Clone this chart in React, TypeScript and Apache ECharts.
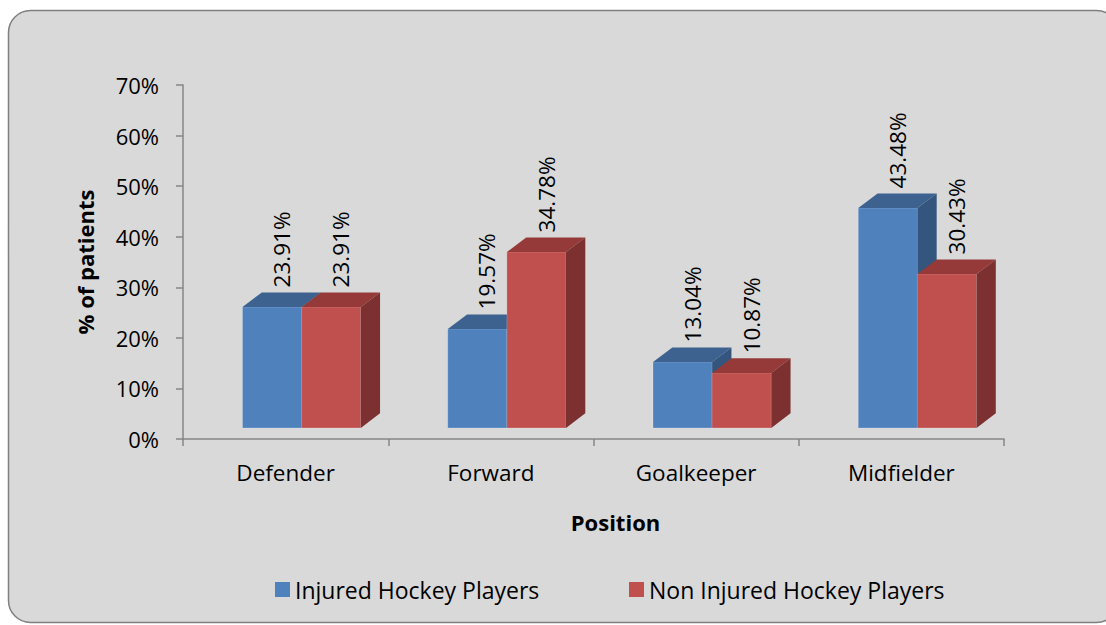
import React, { useEffect, useRef } from "react";
import * as echarts from "echarts";

const categories = ["Defender", "Forward", "Goalkeeper", "Midfielder"];
const injured = [23.91, 19.57, 13.04, 43.48];
const nonInjured = [23.91, 34.78, 10.87, 30.43];
const seriesNames = ["Injured Hockey Players", "Non Injured Hockey Players"];
const yMin = 0;
const yMax = 70;
const yStep = 10;

const FONT = "'Open Sans', 'DejaVu Sans', sans-serif";

const palette = [
  { front: "#4F81BD", top: "#3D6290", side: "#34557E" },
  { front: "#C0504D", top: "#953A39", side: "#7C302F" },
];

function renderBar(params: any, api: any) {
  const si = params.seriesIndex;
  const cat = api.value(0);
  const val = api.value(1);
  const top = api.coord([cat, val]);
  const base = api.coord([cat, 0]);
  const band = api.size([1, 0])[0];
  const barW = band * 0.288;
  const off = band * 0.078;
  const dx = band * 0.094;
  const dy = band * 0.071;
  const shift = band * 0.054;
  const cx = top[0];
  const x0 = si === 0 ? cx + off - barW : cx + off;
  const x1 = x0 + barW;
  const yT = top[1] - shift;
  const yB = base[1] - shift;
  const c = palette[si];
  const text = val.toFixed(2) + "%";
  return {
    type: "group",
    children: [
      {
        type: "rect",
        shape: { x: x0, y: yT, width: barW, height: yB - yT },
        style: { fill: c.front, stroke: "rgba(255,255,255,0.18)", lineWidth: 1 },
      },
      {
        type: "polygon",
        shape: { points: [[x0, yT], [x1, yT], [x1 + dx, yT - dy], [x0 + dx, yT - dy]] },
        style: { fill: c.top },
      },
      {
        type: "polygon",
        shape: { points: [[x1, yT], [x1 + dx, yT - dy], [x1 + dx, yB - dy], [x1, yB]] },
        style: { fill: c.side },
      },
      {
        type: "text",
        x: (x0 + x1) / 2 + dx / 2,
        y: yT - dy - 5,
        rotation: Math.PI / 2,
        style: {
          text,
          fill: "#000",
          font: "22.5px " + FONT,
          align: "left",
          verticalAlign: "middle",
        },
      },
    ],
  };
}

export default function App() {
  const ref = useRef<HTMLDivElement>(null);
  useEffect(() => {
    if (!ref.current) return;
    const chart = echarts.init(ref.current, null, { renderer: "svg" });
    const mk = (vals: number[]) => vals.map((v, i) => [i, v]);
    const legendBase = {
      top: 578,
      padding: 0,
      icon: "rect",
      itemWidth: 15,
      itemHeight: 15,
      textStyle: { fontFamily: FONT, fontSize: 23, color: "#000" },
    };
    chart.setOption({
      animation: false,
      backgroundColor: "#ffffff",
      graphic: [
        {
          type: "rect",
          z: -100,
          silent: true,
          shape: { x: 8.5, y: 10.5, width: 1110, height: 612, r: 22 },
          style: { fill: "#D9D9D9", stroke: "#7F7F7F", lineWidth: 1.5 },
        },
      ],
      grid: { left: 183, top: 85, width: 821, height: 354, containLabel: false },
      legend: [
        { ...legendBase, data: [seriesNames[0]], left: 275 },
        { ...legendBase, data: [seriesNames[1]], left: 629 },
      ],
      xAxis: {
        type: "category",
        data: categories,
        name: "Position",
        nameLocation: "middle",
        nameGap: 72,
        nameTextStyle: {
          fontFamily: FONT,
          fontSize: 22,
          fontWeight: "bold",
          color: "#000",
          padding: [0, 0, 0, 44],
        },
        axisLine: { lineStyle: { color: "#868686", width: 1.5 } },
        axisTick: { show: true, length: 7, interval: 0, lineStyle: { color: "#868686", width: 1.5 } },
        axisLabel: { fontFamily: FONT, fontSize: 22.5, color: "#000", margin: 22, interval: 0 },
        splitLine: { show: false },
      },
      yAxis: {
        type: "value",
        min: yMin,
        max: yMax,
        interval: yStep,
        name: "% of patients",
        nameLocation: "middle",
        nameGap: 87,
        nameTextStyle: { fontFamily: FONT, fontSize: 22, fontWeight: "bold", color: "#000" },
        axisLine: { show: true, lineStyle: { color: "#868686", width: 1.5 } },
        axisTick: { show: true, length: 7, lineStyle: { color: "#868686", width: 1.5 } },
        axisLabel: { fontFamily: FONT, fontSize: 22, color: "#000", margin: 24, formatter: "{value}%" },
        splitLine: { show: false },
      },
      series: [
        {
          type: "custom",
          name: seriesNames[0],
          renderItem: renderBar,
          itemStyle: { color: palette[0].front },
          data: mk(injured),
          encode: { x: 0, y: 1 },
          clip: false,
        },
        {
          type: "custom",
          name: seriesNames[1],
          renderItem: renderBar,
          itemStyle: { color: palette[1].front },
          data: mk(nonInjured),
          encode: { x: 0, y: 1 },
          clip: false,
        },
      ],
    });
    return () => chart.dispose();
  }, []);
  return (
    <div
      ref={ref}
      style={{ position: "fixed", left: 0, top: 0, width: 1106, height: 625 }}
    />
  );
}
